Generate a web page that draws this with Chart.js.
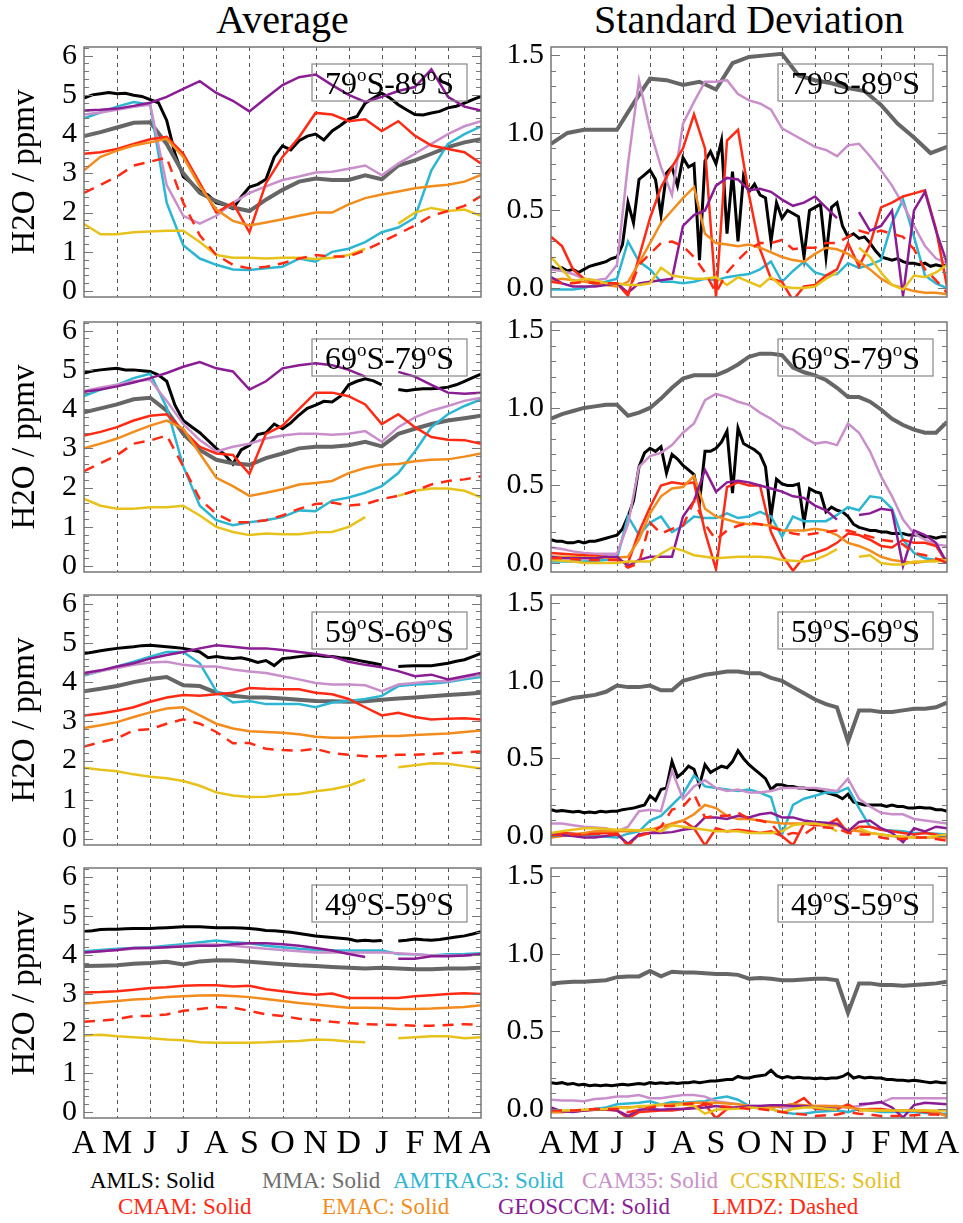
<!DOCTYPE html>
<html>
<head>
<meta charset="utf-8">
<script src="https://cdn.jsdelivr.net/npm/chart.js@4.4.0/dist/chart.umd.min.js"></script>
<style>
  body { margin: 0; background: #fff; width: 963px; height: 1223px; position: relative; overflow: hidden;
         font-family: "Liberation Serif", "Times New Roman", "DejaVu Serif", serif; }
  canvas { position: absolute; }
  .head { position: absolute; top: 0; font-size: 40px; line-height: 40px; text-align: center; color: #000; }
  .leg { position: absolute; font-size: 23px; line-height: 26px; white-space: nowrap; }
</style>
</head>
<body>
<div class="head" style="left:84px;width:397px">Average</div>
<div class="head" style="left:551px;width:396px">Standard Deviation</div>

<div class="leg" style="left:90px;top:1168px;color:#000">AMLS: Solid</div>
<div class="leg" style="left:262px;top:1168px;color:#6e6e6e">MMA: Solid</div>
<div class="leg" style="left:393px;top:1168px;color:#2db6d1">AMTRAC3: Solid</div>
<div class="leg" style="left:582px;top:1168px;color:#c98fca">CAM35: Solid</div>
<div class="leg" style="left:730px;top:1168px;color:#e5c01e">CCSRNIES: Solid</div>
<div class="leg" style="left:118px;top:1194px;color:#ff2a14">CMAM: Solid</div>
<div class="leg" style="left:322px;top:1194px;color:#f28c1c">EMAC: Solid</div>
<div class="leg" style="left:498px;top:1194px;color:#8a1c94">GEOSCCM: Solid</div>
<div class="leg" style="left:712px;top:1194px;color:#ff2a14">LMDZ: Dashed</div>

<script>
// x axis: months since 1 April, one label per month boundary
const MONTHS = ['A', 'M', 'J', 'J', 'A', 'S', 'O', 'N', 'D', 'J', 'F', 'M', 'A'];
const AVG_TICKS = [0, 1, 2, 3, 4, 5, 6];
const SD_TICKS = [0, 0.5, 1.0, 1.5];
const REGIONS = [['79', '89'], ['69', '79'], ['59', '69'], ['49', '59']];

// Each series is spread evenly over the 12 months (first value = 1 Apr, last = 1 Apr).
// ---------- 79S-89S, average (ppmv)
const a1_amls = [4.92, 5.0, 5.03, 5.06, 5.03, 5.04, 4.99, 4.96, 4.88, 4.8, 4.35, 3.5, 2.92, 2.75, 2.55, 2.45, 2.25, 2.2, 2.1, 2.4, 2.65, 2.72, 2.85, 3.42, 3.7, 3.6, 3.83, 3.95, 4.0, 3.85, 4.08, 4.22, 4.38, 4.45, 4.79, 4.92, 5.04, 4.92, 4.75, 4.62, 4.5, 4.49, 4.54, 4.58, 4.67, 4.71, 4.79, 4.88, 4.96];
const a1_mma = [3.95, 4.05, 4.17, 4.29, 4.3, 3.75, 3.0, 2.5, 2.29, 2.13, 2.04, 2.33, 2.58, 2.79, 2.87, 2.83, 2.83, 2.95, 2.85, 3.2, 3.33, 3.5, 3.67, 3.79, 3.87];
const a1_amtrac3 = [4.4, 4.55, 4.7, 4.82, 4.75, 2.25, 1.17, 0.83, 0.67, 0.55, 0.54, 0.58, 0.62, 0.83, 0.75, 1.0, 1.08, 1.25, 1.5, 1.62, 1.87, 3.08, 3.75, 4.0, 4.2];
const a1_cam35 = [4.5, 4.55, 4.62, 4.7, 4.75, 2.7, 1.92, 1.72, 1.92, 2.25, 2.5, 2.67, 2.83, 2.92, 3.02, 3.04, 3.12, 3.2, 2.95, 3.25, 3.5, 3.75, 4.0, 4.2, 4.33];
const a1_ccsrnies = [1.71, 1.45, 1.45, 1.5, 1.52, 1.54, 1.54, 1.25, 0.92, 0.85, 0.85, 0.83, 0.85, 0.85, 0.82, 0.85, 0.92, 1.08, null, 1.72, 2.0, 2.12, 2.04, 2.08, 1.92];
const a1_cmam = [3.5, 3.54, 3.62, 3.75, 3.87, 3.93, 3.5, 2.75, 2.0, 2.25, 1.5, 2.75, 3.42, 3.92, 4.54, 4.5, 4.33, 4.38, 4.08, 4.33, 3.96, 3.71, 3.62, 3.54, 3.25];
const a1_emac = [3.08, 3.42, 3.58, 3.71, 3.79, 3.88, 3.42, 2.67, 2.08, 1.79, 1.67, 1.75, 1.83, 1.92, 2.0, 2.0, 2.21, 2.37, 2.46, 2.54, 2.62, 2.67, 2.71, 2.79, 2.96];
const a1_geosccm = [4.6, 4.62, 4.65, 4.72, 4.8, 4.95, 5.15, 5.35, 5.05, 4.85, 4.58, 4.92, 5.25, 5.45, 5.52, 5.25, 5.0, 4.82, 4.95, 5.1, 5.2, 5.65, 4.95, 4.7, 4.6];
const a1_lmdz = [2.5, 2.71, 2.92, 3.2, 3.3, 3.4, 2.25, 1.42, 0.92, 0.67, 0.58, 0.62, 0.71, 0.83, 0.92, 0.88, 0.88, 1.04, 1.25, 1.46, 1.67, 1.92, 2.04, 2.17, 2.42];

// ---------- 79S-89S, standard deviation
const s1_amls = [0.14, 0.12, 0.13, 0.11, 0.12, 0.1, 0.12, 0.14, 0.15, 0.16, 0.17, 0.19, 0.2, 0.28, 0.55, 0.42, 0.7, 0.73, 0.76, 0.7, 0.47, 0.74, 0.78, 0.66, 0.84, 0.78, 0.8, 0.18, 0.82, 0.88, 0.8, 0.95, 0.35, 0.75, 0.3, 0.72, 0.62, 0.67, 0.6, 0.58, 0.3, 0.55, 0.45, 0.5, 0.48, 0.46, 0.2, 0.5, 0.52, 0.54, 0.2, 0.52, 0.55, 0.4, 0.33, 0.35, 0.32, 0.33, 0.29, 0.24, 0.2, 0.19, 0.18, 0.19, 0.17, 0.16, 0.16, 0.15, 0.16, 0.14, 0.15, 0.14, 0.15];
const s1_mma = [0.93, 1.0, 1.02, 1.02, 1.02, 1.19, 1.35, 1.34, 1.31, 1.33, 1.28, 1.45, 1.49, 1.5, 1.51, 1.37, 1.34, 1.32, 1.29, 1.27, 1.18, 1.06, 0.97, 0.87, 0.91];
const s1_amtrac3 = [-0.01, -0.01, -0.01, 0.0, 0.02, 0.04, 0.06, 0.3, 0.17, 0.12, 0.04, 0.04, 0.03, 0.04, 0.06, 0.05, 0.07, 0.08, 0.09, 0.12, 0.17, 0.04, 0.11, 0.17, 0.1, 0.08, 0.09, 0.16, 0.13, 0.15, 0.18, 0.42, 0.57, 0.33, 0.08, 0.03, 0.0];
const s1_cam35 = [0.12, 0.11, 0.09, 0.06, 0.05, 0.06, 0.15, 0.8, 1.34, 1.02, 0.78, 0.6, 1.06, 1.2, 1.33, 1.33, 1.34, 1.25, 1.21, 1.19, 1.15, 1.03, 0.99, 0.95, 0.91, 0.89, 0.85, 0.92, 0.93, 0.85, 0.76, 0.66, 0.54, 0.4, 0.27, 0.19, 0.16];
const s1_ccsrnies = [0.2, 0.12, 0.04, 0.06, 0.05, 0.03, 0.03, 0.02, 0.02, 0.03, 0.13, 0.08, 0.07, 0.06, 0.06, 0.07, 0.02, 0.07, 0.04, 0.01, 0.07, 0.01, 0.0, 0.0, 0.01, 0.06, 0.1, null, 0.26, 0.2, 0.1, 0.02, -0.01, 0.08, 0.07, 0.1, 0.15];
const s1_cmam = [0.33, 0.27, 0.12, 0.06, 0.04, 0.03, 0.03, -0.05, 0.2, 0.45, 0.65, 0.78, 0.9, 1.12, 0.9, -0.06, 0.95, 1.02, 0.6, 0.25, 0.06, 0.04, -0.08, 0.01, 0.02, 0.08, 0.12, 0.29, 0.14, 0.28, 0.52, 0.55, 0.59, 0.61, 0.63, 0.38, 0.01];
const s1_emac = [0.05, 0.06, 0.05, 0.04, 0.03, 0.02, 0.01, 0.04, 0.16, 0.29, 0.42, 0.5, 0.58, 0.65, 0.35, 0.29, 0.28, 0.27, 0.28, 0.26, 0.23, 0.2, 0.18, 0.17, 0.22, 0.26, 0.25, 0.22, 0.17, 0.12, 0.06, 0.02, 0.0, -0.02, -0.03, -0.03, -0.04];
const s1_geosccm = [0.07, 0.03, 0.01, 0.01, 0.01, 0.02, 0.03, -0.03, 0.03, 0.04, 0.05, 0.06, 0.4, 0.47, 0.5, 0.66, 0.71, 0.7, 0.63, 0.64, 0.62, 0.57, 0.53, 0.55, 0.59, 0.52, 0.45, null, 0.49, 0.37, 0.4, 0.5, -0.05, 0.5, 0.62, 0.37, 0.16];
const s1_lmdz = [0.04, 0.03, 0.03, 0.04, 0.03, 0.03, 0.03, -0.04, 0.15, 0.22, 0.29, 0.3, 0.27, 0.2, 0.1, -0.03, 0.1, 0.18, 0.25, 0.29, 0.29, 0.31, 0.25, 0.26, 0.26, 0.29, 0.29, 0.33, 0.37, 0.35, 0.37, 0.35, 0.33, 0.25, 0.12, 0.05, -0.03];

// ---------- 69S-79S, average
const a2_amls = [4.92, 4.97, 5.0, 5.02, 5.04, 5.0, 5.0, 4.98, 4.96, 4.87, 4.71, 4.1, 3.71, 3.55, 3.4, 3.2, 3.0, 2.85, 2.6, 2.96, 3.08, 3.35, 3.4, 3.62, 3.5, 3.65, 3.85, 4.02, 4.1, 4.2, 4.18, 4.33, 4.62, 4.71, 4.77, 4.72, 4.62, null, 4.5, 4.47, 4.5, 4.52, 4.52, 4.53, 4.56, 4.62, 4.71, 4.8, 4.89];
const a2_mma = [3.92, 4.02, 4.12, 4.25, 4.29, 3.96, 3.37, 2.96, 2.71, 2.62, 2.58, 2.75, 2.87, 3.0, 3.04, 3.04, 3.08, 3.17, 3.05, 3.37, 3.5, 3.62, 3.71, 3.77, 3.83];
const a2_amtrac3 = [4.33, 4.5, 4.62, 4.79, 4.9, 4.04, 2.54, 1.54, 1.17, 1.04, 1.12, 1.17, 1.25, 1.42, 1.4, 1.67, 1.75, 1.87, 2.04, 2.37, 2.92, 3.54, 3.87, 4.08, 4.25];
const a2_cam35 = [4.46, 4.55, 4.62, 4.71, 4.75, 4.21, 3.62, 3.21, 2.92, 3.04, 3.12, 3.25, 3.33, 3.37, 3.37, 3.35, 3.37, 3.44, 3.17, 3.54, 3.79, 3.96, 4.08, 4.21, 4.29];
const a2_ccsrnies = [1.71, 1.54, 1.46, 1.46, 1.5, 1.5, 1.54, 1.29, 1.0, 0.87, 0.79, 0.83, 0.81, 0.81, 0.86, 0.87, 1.0, 1.25, null, 1.79, 1.92, 1.98, 1.98, 1.92, 1.75];
const a2_cmam = [3.33, 3.42, 3.54, 3.71, 3.83, 3.87, 3.46, 3.04, 2.87, 2.83, 2.35, 3.37, 3.58, 4.0, 4.42, 4.42, 4.33, 4.12, 3.62, 3.87, 3.54, 3.29, 3.22, 3.21, 3.12];
const a2_emac = [3.0, 3.12, 3.25, 3.42, 3.58, 3.71, 3.5, 2.87, 2.25, 2.04, 1.79, 1.87, 1.96, 2.08, 2.12, 2.17, 2.37, 2.5, 2.58, 2.6, 2.67, 2.71, 2.72, 2.79, 2.87];
const a2_geosccm = [4.44, 4.5, 4.58, 4.68, 4.79, 4.92, 5.08, 5.2, 5.04, 4.96, 4.5, 4.71, 5.04, 5.12, 5.17, 5.12, 5.0, 4.83, null, 4.95, 4.83, 4.62, 4.42, 4.39, 4.42];
const a2_lmdz = [2.42, 2.62, 2.83, 3.12, 3.2, 3.33, 2.54, 1.71, 1.33, 1.12, 1.12, 1.17, 1.29, 1.46, 1.58, 1.62, 1.54, 1.58, 1.71, 1.79, 1.92, 2.08, 2.17, 2.21, 2.29];

// ---------- 69S-79S, standard deviation
const s2_amls = [0.15, 0.14, 0.14, 0.13, 0.13, 0.14, 0.13, 0.14, 0.14, 0.15, 0.16, 0.17, 0.18, 0.22, 0.3, 0.4, 0.62, 0.71, 0.74, 0.72, 0.75, 0.58, 0.7, 0.67, 0.63, 0.6, 0.57, 0.39, 0.72, 0.72, 0.74, 0.78, 0.85, 0.45, 0.87, 0.77, 0.75, 0.73, 0.7, 0.62, 0.3, 0.54, 0.51, 0.5, 0.5, 0.51, 0.26, 0.48, 0.46, 0.45, 0.33, 0.36, 0.34, 0.33, 0.3, 0.25, 0.23, 0.22, 0.21, 0.21, 0.2, 0.2, 0.19, 0.19, 0.19, 0.18, 0.18, 0.18, 0.17, 0.17, 0.16, 0.17, 0.17];
const s2_mma = [0.93, 0.96, 0.98, 1.0, 1.01, 1.02, 1.02, 0.95, 0.97, 1.0, 1.06, 1.13, 1.19, 1.21, 1.21, 1.21, 1.24, 1.28, 1.33, 1.35, 1.35, 1.34, 1.26, 1.23, 1.21, 1.18, 1.13, 1.07, 1.07, 1.04, 0.99, 0.93, 0.89, 0.86, 0.84, 0.84, 0.91];
const s2_amtrac3 = [0.01, 0.01, 0.01, 0.01, 0.015, 0.02, 0.03, 0.3, 0.18, 0.26, 0.3, 0.2, 0.24, 0.3, 0.29, 0.29, 0.32, 0.29, 0.3, 0.33, 0.3, 0.17, 0.3, 0.27, 0.27, 0.27, 0.31, 0.36, 0.34, 0.43, 0.42, 0.35, 0.15, 0.065, 0.03, 0.02, 0.02];
const s2_cam35 = [0.1, 0.09, 0.075, 0.065, 0.06, 0.06, 0.06, 0.25, 0.62, 0.69, 0.71, 0.76, 0.84, 0.9, 1.05, 1.09, 1.07, 1.04, 1.02, 0.97, 0.93, 0.88, 0.86, 0.81, 0.77, 0.78, 0.76, 0.9, 0.84, 0.72, 0.56, 0.43, 0.28, 0.19, 0.15, 0.12, 0.11];
const s2_ccsrnies = [0.02, 0.015, 0.01, 0.0, 0.0, 0.0, 0.0, 0.01, 0.01, 0.01, 0.06, 0.1, 0.08, 0.05, 0.04, 0.03, 0.035, 0.04, 0.04, 0.04, 0.035, 0.02, 0.015, 0.01, 0.02, 0.05, 0.09, null, 0.04, 0.05, 0.0, -0.01, -0.01, 0.01, 0.01, 0.01, 0.02];
const s2_cmam = [0.065, 0.06, 0.055, 0.05, 0.045, 0.04, 0.02, 0.0, 0.2, 0.36, 0.5, 0.52, 0.51, 0.52, 0.2, -0.04, 0.49, 0.52, 0.5, 0.5, 0.2, 0.05, -0.05, 0.04, 0.065, 0.09, 0.13, 0.19, 0.18, 0.15, 0.11, 0.1, 0.15, 0.13, 0.13, 0.11, 0.0];
const s2_emac = [0.04, 0.04, 0.04, 0.035, 0.035, 0.035, 0.035, 0.04, 0.15, 0.32, 0.43, 0.48, 0.49, 0.56, 0.35, 0.3, 0.28, 0.26, 0.25, 0.25, 0.24, 0.21, 0.21, 0.21, 0.22, 0.21, 0.18, 0.13, 0.11, 0.08, 0.04, 0.02, 0.01, 0.0, 0.01, 0.02, 0.03];
const s2_geosccm = [0.04, 0.03, 0.03, 0.03, 0.03, 0.04, 0.04, -0.02, 0.02, 0.04, 0.04, 0.04, 0.3, 0.4, 0.6, 0.46, 0.52, 0.53, 0.52, 0.5, 0.48, 0.46, 0.43, 0.42, 0.37, 0.34, 0.28, null, 0.31, 0.32, 0.35, 0.34, -0.02, 0.21, 0.18, 0.13, 0.0];
const s2_lmdz = [0.03, 0.03, 0.025, 0.02, 0.02, 0.02, 0.02, -0.03, 0.0, 0.26, 0.19, 0.22, 0.24, 0.4, 0.25, 0.15, 0.21, 0.24, 0.26, 0.25, 0.23, 0.21, 0.19, 0.18, 0.19, 0.2, 0.21, 0.21, 0.19, 0.17, 0.15, 0.14, 0.12, 0.065, 0.05, 0.03, 0.0];

// ---------- 59S-69S, average
const a3_amls = [4.73, 4.76, 4.8, 4.83, 4.86, 4.88, 4.9, 4.93, 4.94, 4.92, 4.9, 4.88, 4.86, 4.82, 4.77, 4.62, 4.65, 4.62, 4.6, 4.62, 4.57, 4.5, 4.55, 4.42, 4.6, 4.62, 4.65, 4.67, 4.69, 4.66, 4.65, 4.62, 4.6, 4.56, 4.52, 4.48, 4.44, null, 4.4, 4.41, 4.42, 4.42, 4.42, 4.45, 4.48, 4.53, 4.57, 4.65, 4.73];
const a3_mma = [3.77, 3.83, 3.9, 4.0, 4.08, 4.13, 3.92, 3.9, 3.73, 3.65, 3.61, 3.61, 3.58, 3.55, 3.52, 3.51, 3.5, 3.51, 3.55, 3.58, 3.61, 3.64, 3.67, 3.7, 3.73];
const a3_amtrac3 = [4.17, 4.28, 4.4, 4.52, 4.65, 4.77, 4.77, 4.48, 3.77, 3.48, 3.52, 3.44, 3.44, 3.44, 3.36, 3.48, 3.52, 3.57, 3.65, 3.9, 3.94, 3.96, 4.0, 4.07, 4.13];
const a3_cam35 = [4.19, 4.28, 4.36, 4.44, 4.5, 4.52, 4.44, 4.4, 4.4, 4.32, 4.27, 4.23, 4.15, 4.07, 3.98, 3.94, 3.94, 3.92, 3.77, 3.94, 3.98, 4.02, 4.02, 4.11, 4.19];
const a3_ccsrnies = [1.82, 1.77, 1.73, 1.65, 1.59, 1.55, 1.48, 1.36, 1.19, 1.11, 1.07, 1.08, 1.13, 1.15, 1.22, 1.27, 1.36, 1.52, null, 1.83, 1.88, 1.93, 1.92, 1.86, 1.8];
const a3_cmam = [3.15, 3.2, 3.27, 3.36, 3.5, 3.61, 3.67, 3.65, 3.69, 3.73, 3.85, 3.83, 3.82, 3.82, 3.73, 3.69, 3.57, 3.36, 3.15, 3.22, 3.11, 3.05, 3.07, 3.08, 3.05];
const a3_emac = [2.83, 2.9, 2.98, 3.11, 3.23, 3.33, 3.36, 3.15, 2.94, 2.82, 2.75, 2.73, 2.71, 2.67, 2.61, 2.58, 2.58, 2.61, 2.63, 2.63, 2.65, 2.67, 2.69, 2.73, 2.77];
const a3_geosccm = [4.23, 4.3, 4.4, 4.48, 4.6, 4.69, 4.77, 4.86, 4.94, 4.9, 4.86, 4.86, 4.82, 4.77, 4.72, 4.65, 4.52, 4.44, 4.38, 4.28, 4.15, 4.19, 4.07, 4.15, 4.23];
const a3_lmdz = [2.36, 2.47, 2.57, 2.77, 2.8, 2.94, 3.05, 2.94, 2.73, 2.44, 2.45, 2.3, 2.27, 2.25, 2.3, 2.19, 2.15, 2.11, 2.11, 2.15, 2.15, 2.17, 2.19, 2.21, 2.23];

// ---------- 59S-69S, standard deviation
const s3_amls = [0.17, 0.16, 0.165, 0.16, 0.155, 0.16, 0.15, 0.155, 0.15, 0.16, 0.155, 0.16, 0.16, 0.17, 0.175, 0.18, 0.19, 0.2, 0.26, 0.23, 0.3, 0.31, 0.48, 0.38, 0.41, 0.45, 0.43, 0.33, 0.46, 0.41, 0.43, 0.45, 0.44, 0.48, 0.55, 0.5, 0.46, 0.43, 0.4, 0.37, 0.3, 0.33, 0.33, 0.32, 0.32, 0.31, 0.31, 0.3, 0.3, 0.29, 0.28, 0.27, 0.26, 0.24, 0.27, 0.22, 0.21, 0.2, 0.2, 0.2, 0.2, 0.19, 0.2, 0.19, 0.19, 0.18, 0.18, 0.185, 0.18, 0.18, 0.17, 0.17, 0.16];
const s3_mma = [0.85, 0.87, 0.89, 0.9, 0.91, 0.93, 0.97, 0.96, 0.96, 0.97, 0.94, 0.94, 1.0, 1.02, 1.04, 1.05, 1.06, 1.06, 1.05, 1.05, 1.02, 1.0, 0.96, 0.92, 0.88, 0.85, 0.83, 0.61, 0.81, 0.81, 0.8, 0.8, 0.81, 0.82, 0.82, 0.83, 0.86];
const s3_amtrac3 = [-0.01, 0.02, 0.015, 0.005, 0.0, -0.005, -0.01, 0.015, 0.03, 0.1, 0.13, 0.2, 0.27, 0.39, 0.32, 0.31, 0.3, 0.29, 0.3, 0.28, 0.25, 0.01, 0.2, 0.24, 0.26, 0.28, 0.28, 0.31, 0.18, 0.06, 0.04, 0.035, 0.03, 0.02, 0.02, 0.015, 0.01];
const s3_cam35 = [0.08, 0.08, 0.07, 0.06, 0.055, 0.05, 0.03, 0.06, 0.16, 0.17, 0.16, 0.42, 0.24, 0.32, 0.36, 0.31, 0.29, 0.3, 0.28, 0.28, 0.29, 0.31, 0.31, 0.31, 0.31, 0.3, 0.29, 0.37, 0.24, 0.19, 0.15, 0.14, 0.14, 0.11, 0.1, 0.09, 0.08];
const s3_ccsrnies = [0.02, 0.03, 0.04, 0.05, 0.05, 0.045, 0.04, 0.04, 0.035, 0.045, 0.03, 0.07, 0.06, 0.05, 0.04, 0.03, 0.03, 0.03, 0.02, 0.02, 0.02, 0.03, 0.07, 0.08, 0.08, 0.07, 0.03, null, 0.05, 0.02, 0.01, 0.0, -0.005, -0.01, -0.01, 0.0, 0.01];
const s3_cmam = [0.01, 0.02, 0.015, 0.01, 0.015, 0.02, 0.02, -0.06, 0.01, 0.02, 0.03, 0.08, 0.1, 0.05, -0.06, 0.05, 0.03, 0.04, 0.03, 0.02, 0.03, 0.0, -0.06, 0.08, 0.07, 0.07, 0.11, 0.02, 0.06, 0.06, 0.04, 0.03, 0.02, 0.01, 0.02, 0.01, -0.01];
const s3_emac = [-0.01, 0.0, 0.01, 0.02, 0.03, 0.03, 0.03, 0.03, 0.035, 0.04, 0.06, 0.08, 0.1, 0.14, 0.2, 0.18, 0.13, 0.11, 0.11, 0.1, 0.09, 0.08, 0.08, 0.08, 0.08, 0.075, 0.07, 0.04, 0.03, 0.02, 0.01, 0.0, -0.005, -0.01, -0.01, -0.01, -0.01];
const s3_geosccm = [0.01, 0.005, 0.0, -0.01, -0.01, 0.0, 0.01, -0.05, 0.01, 0.02, 0.02, 0.025, 0.04, 0.05, 0.12, 0.12, 0.11, 0.13, 0.12, 0.14, 0.15, 0.12, 0.12, 0.1, 0.09, 0.085, 0.08, 0.03, 0.09, 0.1, 0.05, 0.02, -0.04, 0.05, 0.03, 0.06, 0.05];
const s3_lmdz = [0.0, 0.005, 0.01, 0.01, 0.015, 0.01, 0.01, -0.06, 0.0, 0.02, 0.06, 0.17, 0.19, 0.27, 0.12, 0.13, 0.13, 0.15, 0.11, 0.1, 0.08, 0.0, 0.02, 0.01, 0.06, 0.055, 0.05, 0.02, 0.01, 0.01, -0.01, -0.02, -0.02, -0.01, -0.01, -0.02, -0.03];

// ---------- 49S-59S, average
const a4_amls = [4.6, 4.62, 4.65, 4.66, 4.66, 4.67, 4.68, 4.68, 4.68, 4.69, 4.7, 4.71, 4.72, 4.72, 4.72, 4.71, 4.7, 4.7, 4.7, 4.69, 4.68, 4.66, 4.63, 4.62, 4.6, 4.58, 4.55, 4.52, 4.49, 4.47, 4.45, 4.43, 4.41, 4.36, 4.38, 4.36, 4.37, null, 4.36, 4.38, 4.41, 4.39, 4.38, 4.4, 4.43, 4.46, 4.49, 4.54, 4.6];
const a4_mma = [3.72, 3.73, 3.74, 3.78, 3.8, 3.83, 3.76, 3.84, 3.87, 3.86, 3.83, 3.8, 3.77, 3.74, 3.72, 3.7, 3.68, 3.66, 3.68, 3.66, 3.64, 3.64, 3.66, 3.66, 3.68];
const a4_amtrac3 = [4.1, 4.13, 4.16, 4.18, 4.2, 4.24, 4.28, 4.33, 4.37, 4.33, 4.3, 4.24, 4.2, 4.16, 4.13, 4.12, 4.12, 4.12, 4.12, 4.03, 4.02, 3.99, 4.02, 4.03, 4.05];
const a4_cam35 = [4.07, 4.1, 4.13, 4.16, 4.18, 4.2, 4.24, 4.27, 4.27, 4.24, 4.2, 4.16, 4.13, 4.1, 4.07, 4.07, 4.07, 4.07, 4.07, 4.05, 4.02, 3.99, 3.99, 3.99, 4.02];
const a4_ccsrnies = [1.95, 1.97, 1.93, 1.91, 1.88, 1.85, 1.83, 1.78, 1.77, 1.77, 1.77, 1.78, 1.8, 1.81, 1.85, 1.84, 1.8, 1.78, null, 1.88, 1.91, 1.93, 1.93, 1.88, 1.91];
const a4_cmam = [3.05, 3.06, 3.08, 3.12, 3.16, 3.18, 3.22, 3.23, 3.23, 3.2, 3.22, 3.13, 3.08, 3.03, 2.99, 3.02, 2.91, 2.91, 2.91, 2.91, 2.95, 2.98, 3.01, 3.03, 3.01];
const a4_emac = [2.77, 2.8, 2.83, 2.87, 2.89, 2.93, 2.95, 2.97, 2.98, 2.96, 2.93, 2.88, 2.83, 2.78, 2.74, 2.7, 2.66, 2.66, 2.65, 2.63, 2.63, 2.64, 2.66, 2.68, 2.72];
const a4_geosccm = [4.07, 4.1, 4.13, 4.18, 4.18, 4.2, 4.22, 4.24, 4.24, 4.28, 4.3, 4.3, 4.28, 4.24, 4.18, 4.12, 4.03, 3.95, null, 3.91, 3.91, 3.97, 3.97, 3.99, 4.02];
const a4_lmdz = [2.3, 2.33, 2.37, 2.45, 2.45, 2.49, 2.58, 2.63, 2.68, 2.66, 2.58, 2.49, 2.45, 2.38, 2.35, 2.3, 2.27, 2.24, 2.23, 2.22, 2.2, 2.2, 2.22, 2.24, 2.22];

// ---------- 49S-59S, standard deviation
const s4_amls = [0.17, 0.165, 0.17, 0.16, 0.165, 0.155, 0.16, 0.15, 0.155, 0.15, 0.155, 0.15, 0.155, 0.16, 0.155, 0.16, 0.165, 0.16, 0.17, 0.165, 0.17, 0.165, 0.17, 0.165, 0.17, 0.17, 0.175, 0.17, 0.175, 0.18, 0.18, 0.185, 0.19, 0.19, 0.21, 0.2, 0.2, 0.21, 0.215, 0.22, 0.25, 0.215, 0.2, 0.21, 0.2, 0.205, 0.2, 0.2, 0.195, 0.2, 0.195, 0.2, 0.2, 0.21, 0.23, 0.2, 0.21, 0.2, 0.205, 0.2, 0.2, 0.19, 0.19, 0.185, 0.185, 0.18, 0.185, 0.18, 0.175, 0.17, 0.175, 0.17, 0.17];
const s4_mma = [0.81, 0.815, 0.82, 0.82, 0.825, 0.83, 0.85, 0.855, 0.855, 0.89, 0.855, 0.885, 0.88, 0.88, 0.875, 0.87, 0.87, 0.865, 0.84, 0.845, 0.84, 0.83, 0.83, 0.835, 0.84, 0.84, 0.83, 0.62, 0.81, 0.81, 0.8, 0.8, 0.795, 0.8, 0.805, 0.81, 0.82];
const s4_amtrac3 = [-0.02, -0.015, -0.01, -0.01, 0.0, 0.01, 0.03, 0.035, 0.04, 0.05, 0.03, 0.045, 0.04, 0.045, 0.05, 0.07, 0.08, 0.06, 0.02, 0.01, 0.0, -0.02, -0.03, -0.03, -0.02, -0.015, -0.01, -0.02, 0.0, -0.01, -0.02, -0.02, -0.02, -0.02, -0.025, -0.03, -0.03];
const s4_cam35 = [0.06, 0.055, 0.055, 0.05, 0.065, 0.07, 0.08, 0.08, 0.09, 0.07, 0.07, 0.08, 0.09, 0.09, 0.08, 0.05, 0.04, 0.03, 0.02, 0.02, 0.02, 0.01, 0.01, 0.015, 0.02, 0.02, 0.015, 0.01, 0.02, 0.035, 0.04, 0.07, 0.07, 0.07, 0.07, 0.07, 0.07];
const s4_ccsrnies = [-0.01, -0.01, -0.01, -0.005, -0.002, 0.0, 0.01, 0.005, 0.02, 0.02, 0.03, 0.02, 0.03, 0.02, -0.03, -0.005, 0.0, 0.002, 0.01, 0.005, 0.0, -0.02, 0.0, 0.01, 0.01, 0.002, -0.005, null, -0.01, -0.01, -0.01, -0.01, -0.01, -0.01, -0.01, -0.01, -0.01];
const s4_cmam = [-0.02, -0.02, -0.015, -0.01, 0.0, -0.005, -0.01, -0.06, -0.02, -0.015, -0.01, -0.01, 0.0, 0.01, 0.03, -0.06, 0.0, 0.01, 0.02, 0.01, 0.01, 0.02, 0.03, 0.07, 0.0, 0.0, 0.0, 0.03, -0.01, 0.0, 0.0, -0.01, -0.01, -0.01, -0.02, -0.02, -0.045];
const s4_emac = [-0.02, -0.02, -0.015, -0.01, -0.005, 0.0, 0.01, 0.012, 0.015, 0.02, 0.025, 0.03, 0.035, 0.04, 0.04, 0.04, 0.035, 0.03, 0.02, 0.015, 0.01, 0.02, 0.03, 0.025, 0.02, 0.02, 0.02, 0.01, 0.0, -0.005, -0.01, -0.01, -0.01, -0.01, -0.01, -0.02, -0.045];
const s4_geosccm = [0.01, -0.015, -0.02, -0.01, -0.005, 0.0, -0.01, -0.045, -0.005, 0.0, -0.005, 0.0, 0.0, 0.005, 0.01, 0.02, 0.01, 0.01, 0.02, 0.02, 0.025, 0.025, 0.02, 0.02, 0.01, 0.005, 0.0, null, 0.03, 0.035, 0.045, 0.01, -0.055, 0.025, 0.04, 0.035, 0.03];
const s4_lmdz = [-0.01, -0.01, -0.01, -0.005, 0.0, 0.0, 0.0, -0.02, -0.005, 0.01, 0.02, 0.02, 0.03, 0.035, 0.035, 0.02, 0.015, 0.01, 0.0, 0.0, -0.01, -0.02, -0.03, -0.035, -0.045, -0.04, -0.035, -0.02, -0.03, -0.035, -0.045, -0.045, -0.045, -0.04, -0.035, -0.035, -0.04];

// drawing order: first entry is drawn first (bottom)
const MODELS = [
  { key: 'lmdz',     color: '#ff2a14', width: 2.5, dash: [11, 8] },
  { key: 'ccsrnies', color: '#e8c21c', width: 2.5 },
  { key: 'geosccm',  color: '#8a1c94', width: 2.5 },
  { key: 'emac',     color: '#f28c1c', width: 2.5 },
  { key: 'cmam',     color: '#ff2a14', width: 2.5 },
  { key: 'cam35',    color: '#c98fca', width: 2.5 },
  { key: 'amtrac3',  color: '#2db6d1', width: 2.5 },
  { key: 'mma',      color: '#666666', width: 4 },
  { key: 'amls',     color: '#000000', width: 3 },
];

const PANEL_DATA = [
  [{ amls: a1_amls, mma: a1_mma, amtrac3: a1_amtrac3, cam35: a1_cam35, ccsrnies: a1_ccsrnies, cmam: a1_cmam, emac: a1_emac, geosccm: a1_geosccm, lmdz: a1_lmdz },
   { amls: s1_amls, mma: s1_mma, amtrac3: s1_amtrac3, cam35: s1_cam35, ccsrnies: s1_ccsrnies, cmam: s1_cmam, emac: s1_emac, geosccm: s1_geosccm, lmdz: s1_lmdz }],
  [{ amls: a2_amls, mma: a2_mma, amtrac3: a2_amtrac3, cam35: a2_cam35, ccsrnies: a2_ccsrnies, cmam: a2_cmam, emac: a2_emac, geosccm: a2_geosccm, lmdz: a2_lmdz },
   { amls: s2_amls, mma: s2_mma, amtrac3: s2_amtrac3, cam35: s2_cam35, ccsrnies: s2_ccsrnies, cmam: s2_cmam, emac: s2_emac, geosccm: s2_geosccm, lmdz: s2_lmdz }],
  [{ amls: a3_amls, mma: a3_mma, amtrac3: a3_amtrac3, cam35: a3_cam35, ccsrnies: a3_ccsrnies, cmam: a3_cmam, emac: a3_emac, geosccm: a3_geosccm, lmdz: a3_lmdz },
   { amls: s3_amls, mma: s3_mma, amtrac3: s3_amtrac3, cam35: s3_cam35, ccsrnies: s3_ccsrnies, cmam: s3_cmam, emac: s3_emac, geosccm: s3_geosccm, lmdz: s3_lmdz }],
  [{ amls: a4_amls, mma: a4_mma, amtrac3: a4_amtrac3, cam35: a4_cam35, ccsrnies: a4_ccsrnies, cmam: a4_cmam, emac: a4_emac, geosccm: a4_geosccm, lmdz: a4_lmdz },
   { amls: s4_amls, mma: s4_mma, amtrac3: s4_amtrac3, cam35: s4_cam35, ccsrnies: s4_ccsrnies, cmam: s4_cmam, emac: s4_emac, geosccm: s4_geosccm, lmdz: s4_lmdz }],
];

// page geometry
const PLOT_TOP = [47, 322, 595, 868];
const PLOT_H = 250;
const COLS = [
  { left: 0,   width: 490, plotL: 84,  plotR: 481, min: -0.15, max: 6.22, ticks: AVG_TICKS, minor: 0.2, major: 1 },
  { left: 490, width: 473, plotL: 551, plotR: 947, min: -0.058, max: 1.554, ticks: SD_TICKS, minor: 0.1, major: 0.5 },
];
const EDGE = 12;
const SERIF = '"Liberation Serif", "Times New Roman", "DejaVu Serif", serif';

function spread(arr) {
  const n = arr.length;
  return arr.map((v, i) => ({ x: i * 12 / (n - 1), y: v }));
}

// dashed month lines, box, inward ticks and the latitude label
const framePlugin = {
  id: 'frame',
  beforeDatasetsDraw(chart) {
    const { ctx, chartArea: a, scales: { x } } = chart;
    ctx.save();
    ctx.strokeStyle = '#555';
    ctx.lineWidth = 1;
    ctx.setLineDash([4, 4]);
    for (let m = 1; m < 12; m++) {
      const px = Math.round(x.getPixelForValue(m)) + 0.5;
      ctx.beginPath();
      ctx.moveTo(px, a.top);
      ctx.lineTo(px, a.bottom);
      ctx.stroke();
    }
    ctx.restore();
  },
  afterDatasetsDraw(chart, args, opts) {
    const { ctx, chartArea: a, scales: { y } } = chart;
    ctx.save();
    ctx.strokeStyle = '#777';
    ctx.lineWidth = 1;
    const first = Math.ceil(y.min / opts.minor - 1e-6);
    const last = Math.floor(y.max / opts.minor + 1e-6);
    const per = Math.round(opts.major / opts.minor);
    for (let k = first; k <= last; k++) {
      const py = Math.round(y.getPixelForValue(k * opts.minor)) + 0.5;
      const len = (k % per === 0) ? 9 : 5;
      ctx.beginPath();
      ctx.moveTo(a.left, py); ctx.lineTo(a.left + len, py);
      ctx.moveTo(a.right - len, py); ctx.lineTo(a.right, py);
      ctx.stroke();
    }
    ctx.lineWidth = 1.5;
    ctx.strokeRect(a.left, a.top, a.right - a.left, a.bottom - a.top);

    // latitude band label
    const bw = 155, bh = 37;
    const bx = a.right - 14 - bw, by = a.top + 17;
    ctx.strokeStyle = '#888';
    ctx.lineWidth = 1.2;
    ctx.strokeRect(bx, by, bw, bh);
    const big = '32px ' + SERIF, small = '19px ' + SERIF;
    const parts = [[opts.region[0], big], ['o', small], ['S-' + opts.region[1], big], ['o', small], ['S', big]];
    let total = 0;
    parts.forEach(p => { ctx.font = p[1]; total += ctx.measureText(p[0]).width; });
    let tx = bx + (bw - total) / 2;
    ctx.fillStyle = '#000';
    ctx.textBaseline = 'alphabetic';
    parts.forEach(p => {
      ctx.font = p[1];
      ctx.fillText(p[0], tx, p[1] === big ? by + 30 : by + 17);
      tx += ctx.measureText(p[0]).width;
    });
    ctx.restore();
  }
};

Chart.defaults.font.family = SERIF;
Chart.defaults.color = '#000';

PANEL_DATA.forEach((pair, row) => {
  pair.forEach((series, c) => {
    const col = COLS[c];
    const bottomRow = row === 3;
    const canvas = document.createElement('canvas');
    const h = PLOT_H + EDGE + (bottomRow ? 62 : EDGE);
    canvas.width = col.width;
    canvas.height = h;
    canvas.style.left = col.left + 'px';
    canvas.style.top = (PLOT_TOP[row] - EDGE) + 'px';
    canvas.style.width = col.width + 'px';
    canvas.style.height = h + 'px';
    document.body.appendChild(canvas);

    const datasets = MODELS.map(m => ({
      label: m.key,
      data: spread(series[m.key]),
      borderColor: m.color,
      borderWidth: m.width,
      borderDash: m.dash || [],
      pointRadius: 0,
      tension: 0,
      spanGaps: false,
      fill: false,
    }));

    new Chart(canvas.getContext('2d'), {
      type: 'line',
      data: { datasets },
      options: {
        responsive: false,
        animation: false,
        devicePixelRatio: 1,
        layout: { padding: { top: EDGE, right: col.left + col.width - col.plotR, left: 0, bottom: 0 } },
        plugins: {
          legend: { display: false },
          tooltip: { enabled: false },
          frame: { minor: col.minor, major: col.major, region: REGIONS[row] },
        },
        scales: {
          x: {
            type: 'linear', min: 0, max: 12,
            grid: { display: false, drawTicks: false },
            border: { display: false },
            afterBuildTicks: s => { s.ticks = MONTHS.map((_, i) => ({ value: i })); },
            ticks: {
              display: bottomRow, autoSkip: false, maxRotation: 0, padding: 6,
              font: { size: 34 },
              callback: (v, i) => MONTHS[i],
            },
            afterFit: s => { s.height = bottomRow ? 62 : EDGE; s.paddingLeft = 0; s.paddingRight = 0; },
          },
          y: {
            type: 'linear', min: col.min, max: col.max,
            grid: { display: false, drawTicks: false },
            border: { display: false },
            afterBuildTicks: s => { s.ticks = col.ticks.map(v => ({ value: v })); },
            ticks: {
              padding: 7,
              font: { size: 30 },
              callback: v => (c === 0 ? String(v) : v.toFixed(1)),
            },
            title: {
              display: c === 0, text: 'H2O / ppmv',
              font: { size: 33 }, padding: { top: 6, bottom: 0 },
            },
            afterFit: s => { s.width = col.plotL - col.left; s.paddingTop = 0; s.paddingBottom = 0; },
          },
        },
      },
      plugins: [framePlugin],
    });
  });
});
</script>
</body>
</html>
